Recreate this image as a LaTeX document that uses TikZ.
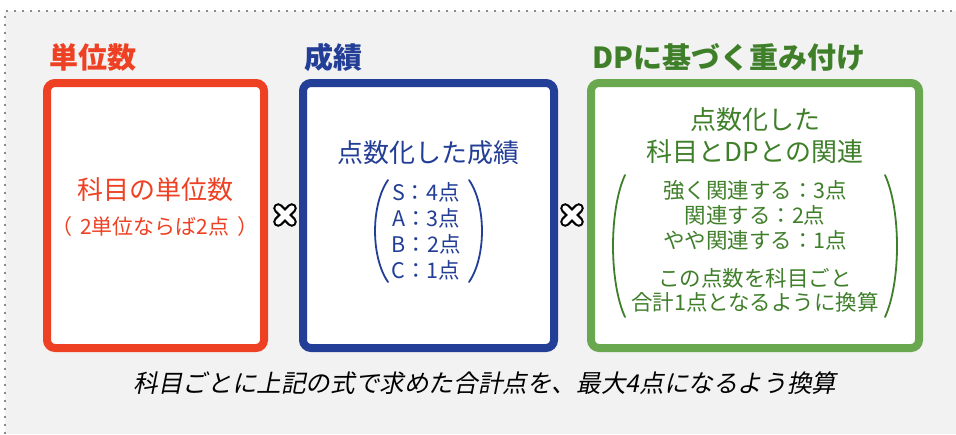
\documentclass[tikz,border=0pt]{standalone}
\usepackage{fontspec}
\usepackage{tikz}
\usetikzlibrary{positioning}
\newfontfamily\cjk{Noto Sans CJK JP}
\newfontfamily\cjkit[FakeSlant=0.2]{Noto Sans CJK JP}
\usepackage{xcolor}
\definecolor{bgc}{HTML}{F2F2F2}
\definecolor{redc}{HTML}{EE4123}
\definecolor{bluec}{HTML}{233E96}
\definecolor{greenc}{HTML}{6AA84F}
\definecolor{greent}{HTML}{3F7F2A}
\colorlet{dotc}{black!45}
\tikzstyle{box}=[draw,line width=4pt,rounded corners=4pt,fill=white,minimum height=132.5pt]
\tikzstyle{ttl}=[anchor=west,inner sep=0pt,font=\cjk\bfseries\fontsize{14.5}{16}\selectfont]
\tikzstyle{txt}=[inner sep=0pt,align=center,font=\cjk\fontsize{13}{16}\selectfont]
\tikzstyle{lst}=[inner sep=0pt,align=center,font=\cjk\fontsize{10.75}{13}\selectfont]
\tikzstyle{paren}=[line width=0.9pt,line cap=round]

\begin{document}
\begin{tikzpicture}[x=0.5pt,y=-0.5pt]
  \useasboundingbox (0,0) rectangle (956,434);
  \fill[bgc] (5,11) rectangle (956,434);
  \draw[dotc,line width=1pt,dash pattern=on 1pt off 3pt] (5,434) -- (5,11) -- (956,11);

  % boxes
  \node[box,draw=redc,minimum width=108.5pt] (unit) at (155.5,215.5) {};
  \node[box,draw=bluec,minimum width=125.5pt] (grade) at (428.5,215.5) {};
  \node[box,draw=greenc,minimum width=164pt] (dp) at (755,215.5) {};

  % titles
  \node[ttl,redc] (unitT) at (49,57) {単位数};
  \node[ttl,bluec] (gradeT) at (304,57) {成績};
  \node[ttl,greent] (dpT) at (592,57) {DPに基づく重み付け};

  % unit
  \node[txt,redc] (unitA) at (155,190) {科目の単位数};
  \node[txt,redc,font=\cjk\fontsize{10.5}{13}\selectfont] (unitB) at (155,227)
       {（\hspace{4pt}2単位ならば2点\hspace{4pt}）};

  % grade
  \node[txt,bluec] (gradeA) at (428,153) {点数化した成績};
  \node[lst,bluec] (gradeL) at (426,231) {S：4点\\A：3点\\B：2点\\C：1点};
  \draw[paren,bluec] (388,180) .. controls (370.7,205) and (370.7,257) .. (388,282);
  \draw[paren,bluec] (469,180) .. controls (486.3,205) and (486.3,257) .. (469,282);

  % dp
  \node[txt,greent] (dpA) at (755,136) {点数化した\\科目とDPとの関連};
  \node[lst,greent,font=\cjk\fontsize{10.75}{12.5}\selectfont] (dpL) at (755,215)
       {強く関連する：3点\\関連する：2点\\やや関連する：1点};
  \node[lst,greent,font=\cjk\fontsize{10.75}{12}\selectfont] (dpM) at (755,290)
       {この点数を科目ごと\\合計1点となるように換算};
  \draw[paren,greent] (625,175) .. controls (609,210) and (609,282) .. (625,317);
  \draw[paren,greent] (885,175) .. controls (901,210) and (901,282) .. (885,317);

  % times
  \foreach \x [count=\i] in {285,572} {
    \coordinate (times\i) at (\x,215);
    \draw[black,line width=5pt,line cap=round] ([shift={(-6.8,-6.8)}]times\i) -- ([shift={(6.8,6.8)}]times\i)
         ([shift={(-6.8,6.8)}]times\i) -- ([shift={(6.8,-6.8)}]times\i);
    \draw[white,line width=2.8pt,line cap=round] ([shift={(-6.8,-6.8)}]times\i) -- ([shift={(6.8,6.8)}]times\i)
         ([shift={(-6.8,6.8)}]times\i) -- ([shift={(6.8,-6.8)}]times\i);
  }

  % note
  \node[inner sep=0pt,font=\cjkit\fontsize{12.3}{14}\selectfont] (note) at (485,383)
       {科目ごとに上記の式で求めた合計点を、最大4点になるよう換算};
\end{tikzpicture}
\end{document}
